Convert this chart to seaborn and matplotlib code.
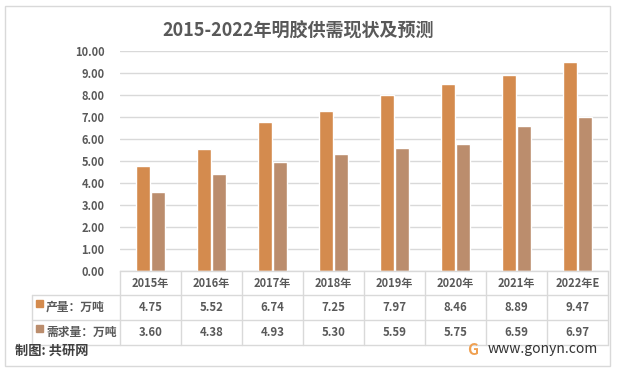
import matplotlib
matplotlib.use("Agg")
import matplotlib.pyplot as plt
from matplotlib.transforms import blended_transform_factory
from matplotlib.lines import Line2D
from matplotlib.patches import Rectangle
import seaborn as sns
import pandas as pd

categories = ["2015年", "2016年", "2017年", "2018年", "2019年", "2020年", "2021年", "2022年E"]
series_names = ["产量：万吨", "需求量：万吨"]
production = [4.75, 5.52, 6.74, 7.25, 7.97, 8.46, 8.89, 9.47]
demand = [3.60, 4.38, 4.93, 5.30, 5.59, 5.75, 6.59, 6.97]
yticks = [0, 1, 2, 3, 4, 5, 6, 7, 8, 9, 10]
title = "2015-2022年明胶供需现状及预测"
source = "制图: 共研网"
site = "www.gonyn.com"
colors = ["#D48B4E", "#BB8D6D"]

sns.set_theme(style="white")
plt.rcParams["font.family"] = ["Noto Sans CJK SC", "DejaVu Sans"]

W, H = 618, 374
fig = plt.figure(figsize=(W / 100, H / 100), dpi=100)

def fx(px):
    return px / W

def fy(py):
    return 1 - py / H

x0, x1, ytop, ybot = 120, 608, 50.5, 271
ax = fig.add_axes([fx(x0), fy(ybot), fx(x1) - fx(x0), fy(ytop) - fy(ybot)])

df = pd.DataFrame({
    "cat": categories * 2,
    "series": [series_names[0]] * len(categories) + [series_names[1]] * len(categories),
    "value": production + demand,
})
sns.barplot(data=df, x="cat", y="value", hue="series", palette=colors,
            width=0.51, gap=0.1, ax=ax, legend=False, saturation=1)

ax.set_xlim(-0.5, len(categories) - 0.5)
ax.set_ylim(0, 10)
ax.set_yticks(yticks)
ax.set_yticklabels([f"{v:.2f}" for v in yticks], fontsize=8, color="#595959", fontweight="bold")
ax.tick_params(axis="y", length=0, pad=11)
ax.set_xticks([])
ax.set_xlabel("")
ax.set_ylabel("")
ax.grid(axis="y", color="#D9D9D9", linewidth=1)
ax.set_axisbelow(True)
for s in ["left", "right", "top"]:
    ax.spines[s].set_visible(False)
ax.spines["bottom"].set_color("#D9D9D9")
ax.spines["bottom"].set_linewidth(1)

line_c = "#D9D9D9"
# table lines
tb = blended_transform_factory(ax.transData, fig.transFigure)
row_lines = [295, 320, 345]
for yy in row_lines:
    fig.add_artist(Line2D([fx(32), fx(x1)], [fy(yy), fy(yy)], color=line_c, lw=1))
fig.add_artist(Line2D([fx(32), fx(32)], [fy(295), fy(345)], color=line_c, lw=1))
for i in range(len(categories) + 1):
    xv = i - 0.5
    fig.add_artist(Line2D([xv, xv], [fy(ybot), fy(345)], color=line_c, lw=1, transform=tb))

tc = "#595959"
for i, c in enumerate(categories):
    fig.text(i, fy(283), c, transform=tb, ha="center", va="center", fontsize=8, color=tc, fontweight="bold")
    fig.text(i, fy(307.5), f"{production[i]:.2f}", transform=tb, ha="center", va="center", fontsize=8.2, color=tc, fontweight="bold")
    fig.text(i, fy(332.5), f"{demand[i]:.2f}", transform=tb, ha="center", va="center", fontsize=8.2, color=tc, fontweight="bold")

for k, (name, col) in enumerate(zip(series_names, colors)):
    yc = 307.5 + 25 * k
    fig.add_artist(Rectangle((fx(36), fy(yc - 1)), fx(7), 7 / H, color=col, transform=fig.transFigure))
    fig.text(fx(46), fy(yc), name, ha="left", va="center", fontsize=8.5, color=tc, fontweight="bold")

# title
fig.text(fx(298), fy(31), title, ha="center", va="center", fontsize=13, color="#595959", fontweight="bold")

# outer border
fig.add_artist(Rectangle((fx(5), fy(366)), fx(605), 360 / H, fill=False, edgecolor=line_c, lw=1, transform=fig.transFigure))

# footer
fig.text(fx(15), fy(351), source, ha="left", va="center", fontsize=9.5, color="#404040", fontweight="bold")
fig.text(fx(473), fy(350), "G", ha="center", va="center", fontsize=11, color="#F0A050", fontweight="bold")
fig.text(fx(488), fy(349), site, ha="left", va="center", fontsize=10, color="#333333")

fig.savefig("out.png", dpi=100)
